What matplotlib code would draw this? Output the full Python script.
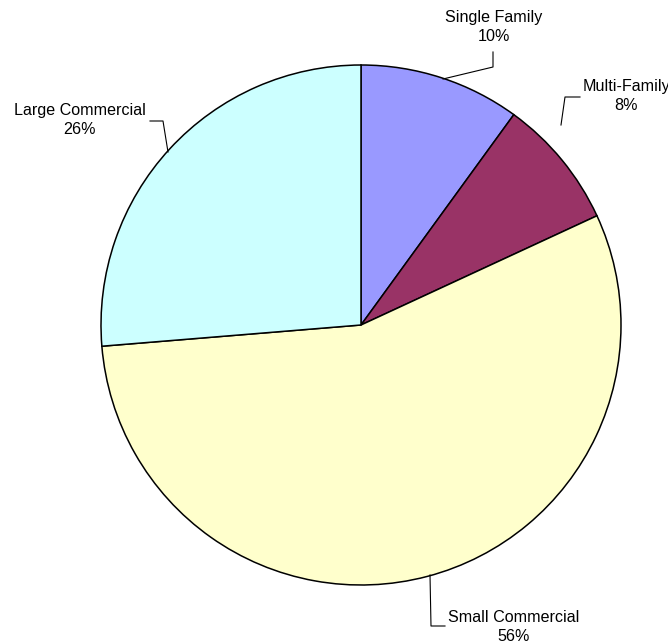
import matplotlib
matplotlib.use("Agg")
import matplotlib.pyplot as plt

categories = ["Single Family", "Multi-Family", "Small Commercial", "Large Commercial"]
values = [10.0, 8.1, 55.6, 26.3]
colors = ["#9999FF", "#993366", "#FFFFCC", "#CCFFFF"]

W, H = 668, 641
fig = plt.figure(figsize=(W / 100, H / 100), dpi=100)
ax = fig.add_axes([0, 0, 1, 1])

cx, cy, r = 361, H - 325, 260
ax.pie(values, colors=colors, startangle=90, counterclock=False,
       center=(cx, cy), radius=r, frame=True,
       wedgeprops=dict(edgecolor="black", linewidth=1.1))
ax.set_xlim(0, W)
ax.set_ylim(0, H)
ax.set_aspect("equal")
ax.axis("off")

total = sum(values)
# label layout (pixel coordinates, y down): text center, leader path
layout = [
    ((494, 27), [(443, 79), (493, 67), (493, 52)]),
    ((626, 96), [(561, 125), (565, 97), (580, 97)]),
    ((514, 627), [(430, 575), (431, 626), (445, 626)]),
    ((80, 120), [(168, 152), (163, 121), (150, 121)]),
]
for name, v, ((tx, ty), path) in zip(categories, values, layout):
    ax.text(tx, H - ty, f"{name}\n{100 * v / total:.0f}%", ha="center", va="center",
            fontsize=11.6, family="Liberation Sans", linespacing=1.3, color="black")
    xs = [p[0] for p in path]
    ys = [H - p[1] for p in path]
    ax.plot(xs, ys, color="black", linewidth=0.8)

fig.savefig("out.png", dpi=100, facecolor="white")
